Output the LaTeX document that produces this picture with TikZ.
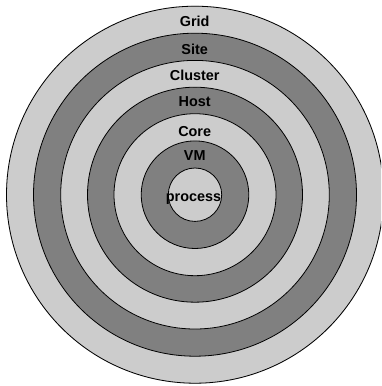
\documentclass[tikz,border=0pt]{standalone}
\usepackage{fontspec}
\setmainfont{Liberation Sans}
\begin{document}
\begin{tikzpicture}[x=1pt,y=-1pt,
  ring/.style={draw=black,line width=0.8pt},
  lab/.style={font=\fontsize{14.4}{16}\selectfont\bfseries,anchor=base,inner sep=0pt}]
\definecolor{lightg}{HTML}{CCCCCC}
\definecolor{darkg}{HTML}{808080}
\useasboundingbox (0,0) rectangle (381,386);
\coordinate (c) at (195,194.7);
\begin{scope}
\clip (0,0) rectangle (381,386);
\fill[lightg] (c) circle (189);
\draw[ring] (c) circle (188.5);
\filldraw[ring,fill=darkg] (c) circle (161.5);
\filldraw[ring,fill=lightg] (c) circle (134.3);
\filldraw[ring,fill=darkg] (c) circle (107.5);
\filldraw[ring,fill=lightg] (c) circle (81);
\filldraw[ring,fill=darkg] (c) circle (53.8);
\filldraw[ring,fill=lightg] (c) circle (26.7);
\end{scope}
\node[lab] (grid) at (194.7,26) {Grid};
\node[lab] (site) at (194.7,54) {Site};
\node[lab] (cluster) at (194.7,80) {Cluster};
\node[lab] (host) at (194.7,106) {Host};
\node[lab] (core) at (194.7,136) {Core};
\node[lab] (vm) at (194.7,160.7) {VM};
\node[lab] (process) at (193.5,201.5) {process};
\end{tikzpicture}
\end{document}
